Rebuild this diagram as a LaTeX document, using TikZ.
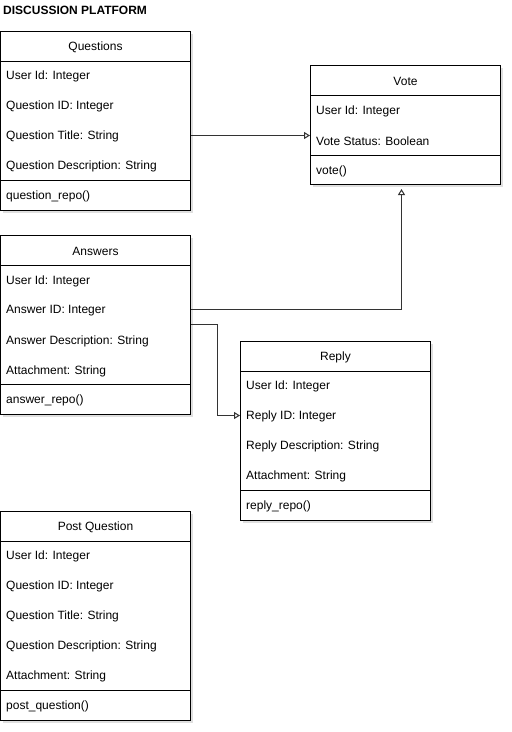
\documentclass[tikz,border=0pt]{standalone}
\usepackage{fontspec}
\setmainfont{Liberation Sans}
\usetikzlibrary{arrows.meta,calc,shadows}

\tikzset{
  classbox/.style={draw, line width=1pt, fill=white, anchor=north west,
    minimum width=190pt, inner sep=0pt,
    drop shadow={opacity=0.25, shadow xshift=2pt, shadow yshift=-2pt}},
  classname/.style={font=\fontsize{12}{14}\selectfont},
  member/.style={anchor=west, inner sep=0pt, font=\fontsize{12}{14}\selectfont},
  sepline/.style={line width=1pt},
  inherit/.style={draw=black!80, line width=1pt,
    -{Triangle[open,length=6pt,width=7pt]}},
}

\begin{document}
\begin{tikzpicture}[x=1pt,y=-1pt]
  \useasboundingbox[fill=white] (0,0) rectangle (512,732);
  % title
  \node[anchor=west, inner sep=0pt, font=\bfseries\fontsize{12}{14}\selectfont] (title) at (3,10.5) {DISCUSSION PLATFORM};

  % Questions
  \node[classbox, minimum height=179pt] (q) at (0,31) {};
  \node[classname] (qt) at ($(q.north)+(0,16)$) {Questions};
  \draw[sepline] ($(q.north west)+(0,30)$) -- ($(q.north east)+(0,30)$);
  \foreach \m [count=\i] in {User Id: Integer, Question ID: Integer, Question Title: String, Question Description: String}
    \node[member] (q\i) at ($(q.north west)+(6,15.5+30*\i)$) {\m};
  \draw[sepline] ($(q.north west)+(0,149)$) -- ($(q.north east)+(0,149)$);
  \node[member] (qm) at ($(q.north west)+(6,165.5)$) {question\_repo()};

  % Vote
  \node[classbox, minimum height=119pt] (v) at (310,65) {};
  \node[classname] (vt) at ($(v.north)+(0,16)$) {Vote};
  \draw[sepline] ($(v.north west)+(0,30)$) -- ($(v.north east)+(0,30)$);
  \foreach \m [count=\i] in {User Id: Integer, Vote Status: Boolean}
    \node[member] (v\i) at ($(v.north west)+(6,16+30*\i)$) {\m};
  \draw[sepline] ($(v.north west)+(0,90)$) -- ($(v.north east)+(0,90)$);
  \node[member] (vm) at ($(v.north west)+(6,106)$) {vote()};

  % Answers
  \node[classbox, minimum height=179pt] (a) at (0,235) {};
  \node[classname] (at) at ($(a.north)+(0,16)$) {Answers};
  \draw[sepline] ($(a.north west)+(0,30)$) -- ($(a.north east)+(0,30)$);
  \foreach \m [count=\i] in {User Id: Integer, Answer ID: Integer, Answer Description: String, Attachment: String}
    \node[member] (a\i) at ($(a.north west)+(6,16+30*\i)$) {\m};
  \draw[sepline] ($(a.north west)+(0,149)$) -- ($(a.north east)+(0,149)$);
  \node[member] (am) at ($(a.north west)+(6,165.5)$) {answer\_repo()};

  % Reply
  \node[classbox, minimum height=179pt] (r) at (240,341) {};
  \node[classname] (rt) at ($(r.north)+(0,16)$) {Reply};
  \draw[sepline] ($(r.north west)+(0,30)$) -- ($(r.north east)+(0,30)$);
  \foreach \m [count=\i] in {User Id: Integer, Reply ID: Integer, Reply Description: String, Attachment: String}
    \node[member] (r\i) at ($(r.north west)+(6,15.5+30*\i)$) {\m};
  \draw[sepline] ($(r.north west)+(0,149)$) -- ($(r.north east)+(0,149)$);
  \node[member] (rm) at ($(r.north west)+(6,165.5)$) {reply\_repo()};

  % Post Question
  \node[classbox, minimum height=209pt] (p) at (0,511) {};
  \node[classname] (pt) at ($(p.north)+(0,16)$) {Post Question};
  \draw[sepline] ($(p.north west)+(0,30)$) -- ($(p.north east)+(0,30)$);
  \foreach \m [count=\i] in {User Id: Integer, Question ID: Integer, Question Title: String, Question Description: String, Attachment: String}
    \node[member] (p\i) at ($(p.north west)+(6,15.5+30*\i)$) {\m};
  \draw[sepline] ($(p.north west)+(0,179)$) -- ($(p.north east)+(0,179)$);
  \node[member] (pm) at ($(p.north west)+(6,195.5)$) {post\_question()};

  % connectors
  \coordinate (a2r) at ($(a.east |- a2)+(0,-2)$);
  \coordinate (a3r) at ($(a.east |- a2)+(0,13)$);
  \coordinate (q3r) at ($(q.east |- q3)+(0,-1)$);
  \coordinate (r2l) at ($(r.west |- r2)+(0,-1)$);
  \draw[inherit] (q3r) -- (v.west |- q3r);
  \draw[inherit] (a2r) -| ([xshift=-4pt,yshift=-4pt]v.south);
  \draw[inherit] (a3r) -- ++(26,0) |- (r2l);
\end{tikzpicture}
\end{document}
